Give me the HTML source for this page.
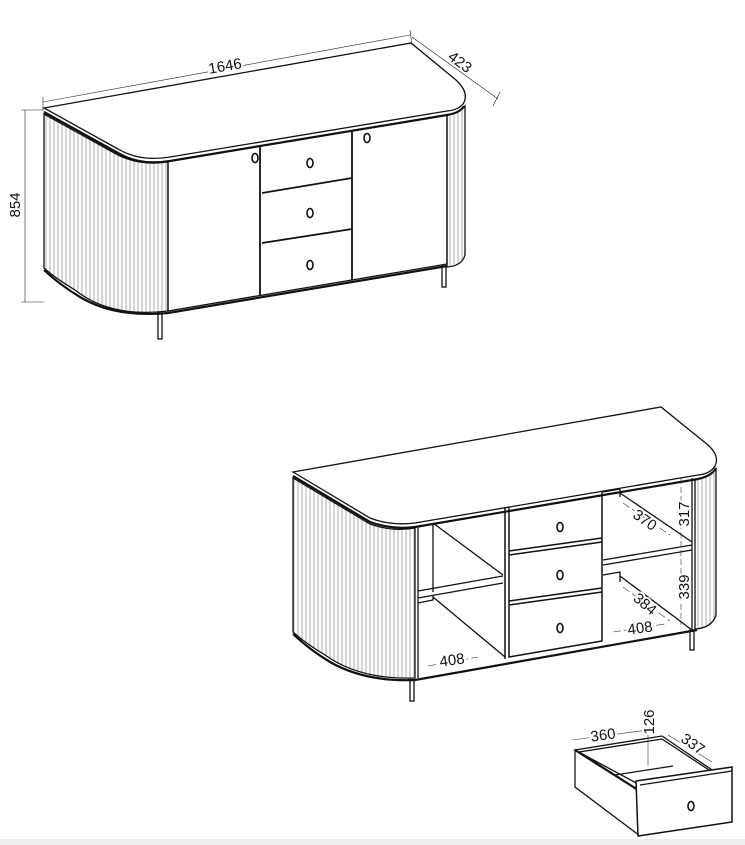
<!DOCTYPE html>
<html><head><meta charset="utf-8"><style>
html,body{margin:0;padding:0;background:#fff;width:745px;height:845px;overflow:hidden}
svg{display:block}
text{font-family:"Liberation Sans",sans-serif;font-size:15px;fill:#111}
</style></head><body>
<svg width="745" height="845" viewBox="0 0 745 845" xmlns="http://www.w3.org/2000/svg">
<defs>
<pattern id="fl" width="4" height="10" patternUnits="userSpaceOnUse"><line x1="2" y1="0" x2="2" y2="10" stroke="#888" stroke-width="0.7"/></pattern>
</defs>
<rect x="0" y="839" width="745" height="6" fill="#eeeeee"/>
<g fill="none" stroke="#111" stroke-width="1.3">
<path d="M44,108 L411,43 L456,80 Q470,93 463,104 Q458,110 447,111 L170,157 Q140,162 118,149 Z" fill="#fff"/>
<path d="M44,112 L118,153 Q140,166 170,161 L447,115 Q460,113 464,106" stroke-width="2.2"/>
<path d="M44,114 L118,155 Q140,166 168,162 L168,311 Q110,318 75,290 Q55,278 44,268 Z" fill="url(#fl)"/>
<path d="M44,270 Q60,285 80,297 Q115,318 168,313" stroke-width="2.2"/>
<path d="M447,115 Q460,113 465,106 L465,255 Q462,266 447,267 Z" fill="url(#fl)"/>
<path d="M168,161 L168,311 L447,264 L447,115"/>
<path d="M168,313 L447,266" stroke-width="2.2"/>
<line x1="260" y1="146" x2="260" y2="295" stroke-width="1.8"/>
<line x1="352" y1="131" x2="352" y2="280" stroke-width="1.8"/>
<line x1="262" y1="193" x2="352" y2="178" stroke-width="1.8"/>
<line x1="262" y1="243" x2="352" y2="229" stroke-width="1.8"/>
<g stroke-width="1.6"><ellipse cx="255" cy="158" rx="3" ry="4.5"/><ellipse cx="367" cy="138" rx="3" ry="4.5"/>
<ellipse cx="310" cy="163" rx="3" ry="4.5"/><ellipse cx="310" cy="213" rx="3" ry="4.5"/><ellipse cx="310" cy="265" rx="3" ry="4.5"/></g>
<rect x="158" y="313" width="4" height="26"/><rect x="442" y="266" width="4" height="21"/>
</g>
<g stroke="#222" stroke-width="0.6" fill="none">
<line x1="43" y1="102" x2="410" y2="35"/><line x1="43" y1="97" x2="43" y2="110"/><line x1="410" y1="30" x2="412" y2="45"/>
<line x1="412" y1="37" x2="498" y2="99"/><line x1="493" y1="106" x2="500" y2="92"/>
<line x1="25" y1="110" x2="25" y2="302"/><line x1="21" y1="110" x2="44" y2="110"/><line x1="21" y1="302" x2="44" y2="302"/>
</g>
<text x="225" y="71" text-anchor="middle" transform="rotate(-10 225 66)" style="stroke:#fff;stroke-width:4;paint-order:stroke">1646</text>
<text x="460" y="67" text-anchor="middle" transform="rotate(37 460 62)" style="stroke:#fff;stroke-width:4;paint-order:stroke">423</text>
<text x="15" y="210" text-anchor="middle" transform="rotate(-90 15 205)" style="stroke:#fff;stroke-width:4;paint-order:stroke">854</text>

<g fill="none" stroke="#111" stroke-width="1.3">
<path d="M293,472 L661,407 L708,445 Q720,456 715,466 Q710,474 698,475 L415,523 Q390,526 370,518 Z" fill="#fff"/>
<path d="M293,476 L370,522 Q392,530 415,527 L698,479 Q712,476 716,468" stroke-width="2.2"/>
<path d="M293,478 L370,524 Q392,532 415,528 L415,678 Q360,680 325,655 Q305,643 293,632 Z" fill="url(#fl)"/>
<path d="M293,634 Q310,650 330,662 Q365,682 415,680" stroke-width="2.2"/>
<path d="M698,479 Q712,476 716,468 L716,615 Q712,628 695,629 L695,479 Z" fill="url(#fl)"/>
<path d="M415,680 L697,630" stroke-width="2.2"/>
<line x1="418" y1="526" x2="418" y2="678"/>
<path d="M418,527 L433,524 L433,592 M433,523 L503,575 M418,591 L503,576 M418,598 L503,583 M418,603 L433,600 L433,596 M433,597 L505,657"/>
<path d="M505,507 L505,659 M509,507 L509,657 L602,641 L602,491 M509,555 L602,542 M509,605 L602,592 M509,551 L602,538 M509,601 L602,588" stroke-width="1.5"/>
<g stroke-width="1.6"><ellipse cx="560" cy="527" rx="3" ry="4.5"/><ellipse cx="560" cy="575" rx="3" ry="4.5"/><ellipse cx="560" cy="628" rx="3" ry="4.5"/></g>
<path d="M620,489 L620,497 M603,492 L620,489 M620,493 L692,542 M603,560 L692,545 M603,565 L692,550 M603,575 L620,572 L620,582 M620,576 L692,630 M692,478 L692,630"/>
<rect x="410" y="680" width="4" height="21"/><rect x="690" y="630" width="4" height="20"/>
</g>
<g stroke="#333" stroke-width="0.6" fill="none">
<line x1="681" y1="478" x2="681" y2="625" stroke-dasharray="6 3"/>
<line x1="623" y1="503" x2="670" y2="535" stroke-dasharray="8 3"/>
<line x1="623" y1="587" x2="670" y2="621" stroke-dasharray="8 3"/>
<line x1="613" y1="632" x2="665" y2="624" stroke-dasharray="8 3"/>
<line x1="428" y1="666" x2="478" y2="657" stroke-dasharray="8 3"/>
</g>
<text x="684" y="519" text-anchor="middle" transform="rotate(-90 684 514)" style="stroke:#fff;stroke-width:4;paint-order:stroke">317</text>
<text x="684" y="592" text-anchor="middle" transform="rotate(-90 684 587)" style="stroke:#fff;stroke-width:4;paint-order:stroke">339</text>
<text x="645" y="525" text-anchor="middle" transform="rotate(35 645 520)" style="stroke:#fff;stroke-width:4;paint-order:stroke">370</text>
<text x="645" y="609" text-anchor="middle" transform="rotate(40 645 604)" style="stroke:#fff;stroke-width:4;paint-order:stroke">384</text>
<text x="640" y="633" text-anchor="middle" transform="rotate(-8 640 628)" style="stroke:#fff;stroke-width:4;paint-order:stroke">408</text>
<text x="452" y="665" text-anchor="middle" transform="rotate(-8 452 660)" style="stroke:#fff;stroke-width:4;paint-order:stroke">408</text>

<g fill="none" stroke="#111" stroke-width="1.3">
<path d="M575,750 L662,736 L715,772 L638,784 Z" fill="#fff"/>
<path d="M579,752 L662,739 L712,772 M579,752 L638,790"/>
<path d="M575,750 L575,787 L640,836"/>
<path d="M575,750 L638,790" stroke-width="2.2"/>
<path d="M615,775 L673,766"/>
<path d="M636,781 L732,767 L732,822 L638,836 Z" fill="#fff" stroke-width="1.5"/>
<path d="M640,785 L732,771"/>
<ellipse cx="691" cy="806" rx="3" ry="4.5" stroke-width="1.6"/>
</g>
<g stroke="#333" stroke-width="0.6" fill="none">
<line x1="572" y1="740" x2="655" y2="729"/><line x1="648" y1="712" x2="648" y2="766"/><line x1="668" y1="735" x2="712" y2="762"/>
</g>
<text x="603" y="740" text-anchor="middle" transform="rotate(-8 603 735)" style="stroke:#fff;stroke-width:4;paint-order:stroke">360</text>
<text x="649" y="727" text-anchor="middle" transform="rotate(-90 649 722)" style="stroke:#fff;stroke-width:4;paint-order:stroke">126</text>
<text x="693" y="749" text-anchor="middle" transform="rotate(35 693 744)" style="stroke:#fff;stroke-width:4;paint-order:stroke">337</text>
</svg>
</body></html>
